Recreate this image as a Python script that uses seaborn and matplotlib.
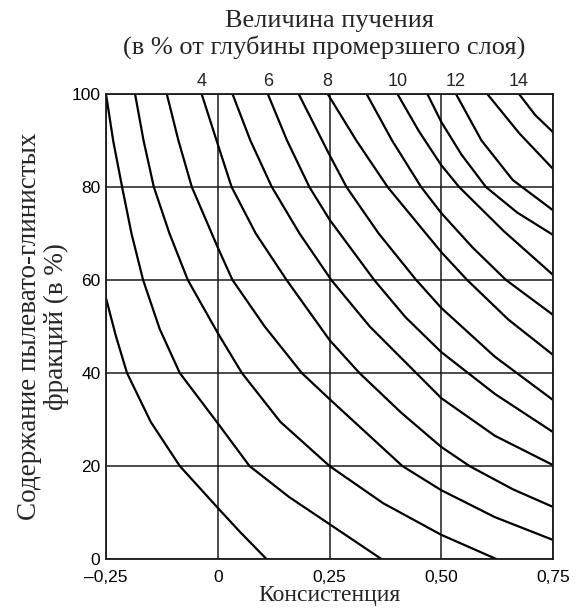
import matplotlib
matplotlib.use('Agg')
import matplotlib.pyplot as plt
import seaborn as sns
import pandas as pd

# heave curves: consistency (x) -> silt/clay content in % (y)
h0_x = [-0.25, -0.228, -0.203, -0.15, -0.085, 0.0, 0.05, 0.109]
h0_y = [56.1, 48, 40, 29.5, 20, 11.0, 5.8, 0]
h1_x = [-0.25, -0.234, -0.214, -0.193, -0.167, -0.13, -0.085, 0.0, 0.071, 0.16, 0.25, 0.366]
h1_y = [100, 90, 80, 70, 60, 49.5, 40, 29.2, 20, 13.3, 7.5, 0]
h2_x = [-0.185, -0.166, -0.143, -0.108, -0.067, 0.0, 0.054, 0.14, 0.25, 0.37, 0.5, 0.623]
h2_y = [100, 90, 80, 70, 60, 48.6, 40, 29.5, 20, 12, 5.2, 0]
h3_x = [-0.114, -0.088, -0.058, 0.0, 0.033, 0.105, 0.188, 0.25, 0.413, 0.5, 0.62, 0.75]
h3_y = [100, 90, 80, 67, 60, 50, 40, 34.4, 20, 14.8, 9, 4.1]
h4_x = [-0.036, 0.0, 0.031, 0.085, 0.154, 0.25, 0.317, 0.41, 0.5, 0.563, 0.66, 0.75]
h4_y = [100, 89.2, 80, 70, 60, 47.1, 40, 31.5, 24.1, 20, 15, 11.2]
h5_x = [0.033, 0.073, 0.121, 0.183, 0.254, 0.34, 0.444, 0.5, 0.62, 0.75]
h5_y = [100, 90, 80, 70, 60, 50, 40, 34.6, 26.5, 20.2]
h6_x = [0.112, 0.155, 0.205, 0.25, 0.35, 0.42, 0.5, 0.62, 0.75]
h6_y = [100, 90, 80, 73, 60, 52, 44.5, 35.5, 27.3]
h7_x = [0.181, 0.25, 0.288, 0.36, 0.444, 0.5, 0.62, 0.75]
h7_y = [100, 86.9, 80, 70, 60, 54, 43.5, 34.2]
h8_x = [0.246, 0.31, 0.38, 0.5, 0.558, 0.65, 0.75]
h8_y = [100, 90, 80, 66, 60, 51.5, 43.9]
h9_x = [0.333, 0.39, 0.455, 0.5, 0.57, 0.645, 0.75]
h9_y = [100, 90, 80, 74.4, 67, 60, 52.5]
h10_x = [0.402, 0.45, 0.5, 0.54, 0.64, 0.75]
h10_y = [100, 92, 84.7, 80, 70.5, 61.1]
h11_x = [0.469, 0.5, 0.545, 0.6, 0.67, 0.75]
h11_y = [100, 94, 87, 80, 74.5, 69.7]
h12_x = [0.533, 0.59, 0.66, 0.75]
h12_y = [100, 90, 81.5, 75]
h13_x = [0.603, 0.675, 0.75]
h13_y = [100, 91.5, 83.9]
h14_x = [0.674, 0.71, 0.75]
h14_y = [100, 95.5, 91.8]

curves_x = [h0_x, h1_x, h2_x, h3_x, h4_x, h5_x, h6_x, h7_x,
            h8_x, h9_x, h10_x, h11_x, h12_x, h13_x, h14_x]
curves_y = [h0_y, h1_y, h2_y, h3_y, h4_y, h5_y, h6_y, h7_y,
            h8_y, h9_y, h10_y, h11_y, h12_y, h13_y, h14_y]
labelled = [4, 6, 8, 10, 12, 14]

x_ticks = [-0.25, 0, 0.25, 0.5, 0.75]
x_tick_labels = ['–0,25', '0', '0,25', '0,50', '0,75']
y_ticks = [0, 20, 40, 60, 80, 100]

rows = []
for i, (xs, ys) in enumerate(zip(curves_x, curves_y)):
    for x, y in zip(xs, ys):
        rows.append({'curve': i, 'cons': x, 'content': y})
df = pd.DataFrame(rows)

sns.set_style('white')
plt.rcParams['font.family'] = ['Liberation Sans', 'DejaVu Sans']

fig = plt.figure(figsize=(5.82, 6.08), dpi=100)
ax = fig.add_axes([106 / 582, 49 / 608, 447 / 582, 465 / 608])

sns.lineplot(data=df, x='cons', y='content', units='curve', estimator=None,
             sort=False, color='black', linewidth=1.6, ax=ax, legend=False)

ax.set_xlim(-0.25, 0.75)
ax.set_ylim(0, 100)
ax.set_xticks(x_ticks)
ax.set_xticklabels(x_tick_labels)
ax.set_yticks(y_ticks)
ax.tick_params(length=0, labelsize=12.5, colors='black')
ax.tick_params(axis='x', pad=8)
ax.tick_params(axis='y', pad=4)
ax.grid(True, color='#1a1a1a', linewidth=1.1)
for s in ax.spines.values():
    s.set_color('#1a1a1a')
    s.set_linewidth(1.3)

for n in labelled:
    ax.text(curves_x[n][0], 100.8, str(n), ha='center', va='bottom', fontsize=13)

serif = ['Liberation Serif', 'DejaVu Serif']
ax.set_xlabel('Консистенция', family=serif, fontsize=17, labelpad=0)
ax.set_ylabel('Содержание пылевато-глинистых\nфракций (в %)', family=serif,
              fontsize=19.5, labelpad=2, linespacing=1.1)
fig.text(0.566, 0.966, 'Величина пучения', family=serif, fontsize=19,
         ha='center', va='center')
fig.text(0.557, 0.922, '(в % от глубины промерзшего слоя)', family=serif,
         fontsize=19, ha='center', va='center')

fig.savefig('out.png', dpi=100)
